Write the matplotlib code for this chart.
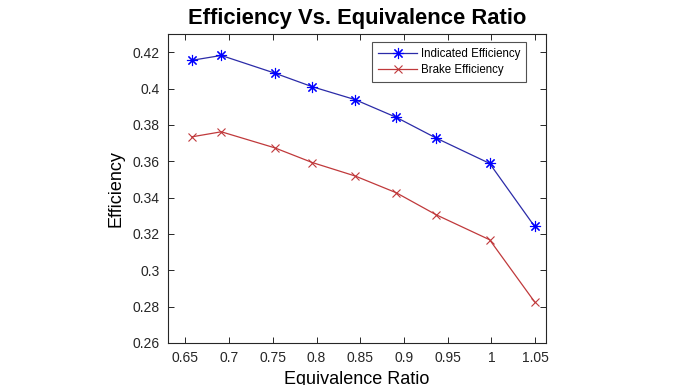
import matplotlib
matplotlib.use("Agg")
import matplotlib.pyplot as plt

plt.rcParams["font.family"] = ["Liberation Sans", "DejaVu Sans"]

phi = [0.657, 0.691, 0.752, 0.795, 0.844, 0.891, 0.937, 0.998, 1.0495]
indicated = [0.4155, 0.4182, 0.4085, 0.4010, 0.3939, 0.3842, 0.3727, 0.3588, 0.3241]
brake = [0.3734, 0.3762, 0.3674, 0.3593, 0.3519, 0.3427, 0.3305, 0.3168, 0.2826]

x_ticks = [0.65, 0.7, 0.75, 0.8, 0.85, 0.9, 0.95, 1.0, 1.05]
x_labels = ["0.65", "0.7", "0.75", "0.8", "0.85", "0.9", "0.95", "1", "1.05"]
y_ticks = [0.26, 0.28, 0.30, 0.32, 0.34, 0.36, 0.38, 0.40, 0.42]
y_labels = ["0.26", "0.28", "0.3", "0.32", "0.34", "0.36", "0.38", "0.4", "0.42"]

fig = plt.figure(figsize=(6.96, 3.85), dpi=100)
ax = fig.add_axes([168 / 696, 1 - 343 / 385, (546 - 168) / 696, (343 - 34) / 385])

# MATLAB-style asterisk: 8 spokes
ax.plot(phi, indicated, color="#2b2ba8", linewidth=0.9, marker=(8, 2, 0),
        markersize=8, markeredgecolor="#0000ff", markeredgewidth=0.8,
        label="Indicated Efficiency")
ax.plot(phi, brake, color="#c0393b", linewidth=0.9, marker="x",
        markersize=6, markeredgecolor="#c0393b", markeredgewidth=0.8,
        label="Brake Efficiency")

ax.set_xlim(0.63, 1.0625)
ax.set_ylim(0.26, 0.43)
ax.set_xticks(x_ticks, x_labels)
ax.set_yticks(y_ticks, y_labels)
ax.tick_params(direction="in", top=True, right=True, length=4, width=0.7,
               labelsize=10, labelcolor="#262626", color="#262626", pad=6)
for s in ax.spines.values():
    s.set_linewidth(0.8)
    s.set_color("#262626")

ax.set_title("Efficiency Vs. Equivalence Ratio", fontsize=15.8, fontweight="bold", pad=7)
ax.set_xlabel("Equivalence Ratio", fontsize=13, labelpad=4)
ax.set_ylabel("Efficiency", fontsize=13, labelpad=6)

leg = ax.legend(loc="upper right", bbox_to_anchor=(0.947, 0.974), fontsize=8.3,
                frameon=True, fancybox=False, edgecolor="#262626",
                handlelength=3.4, handletextpad=0.3, borderaxespad=0.0,
                borderpad=0.5, labelspacing=0.4)
leg.get_frame().set_linewidth(0.8)

fig.savefig("out.png", dpi=100)
